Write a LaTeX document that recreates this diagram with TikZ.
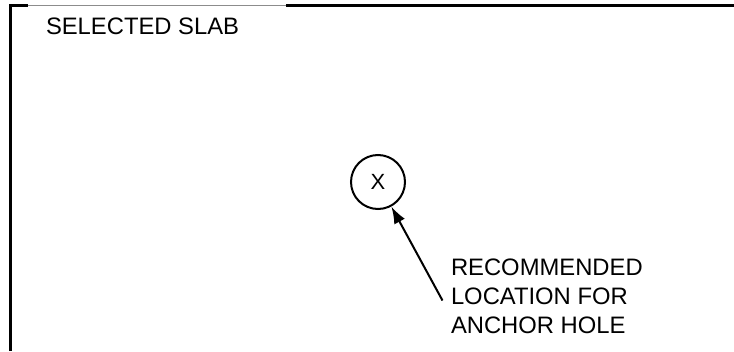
\documentclass[tikz,border=0pt]{standalone}
\usepackage{fontspec}
\setmainfont{Liberation Sans}
\usetikzlibrary{arrows.meta}
\begin{document}
\begin{tikzpicture}[x=1pt,y=-1pt,line width=2pt,
	lbl/.style={inner sep=0pt,font=\fontsize{23.8}{29}\selectfont,align=left},
	hole/.style={draw,circle,minimum size=54pt,inner sep=0pt,font=\fontsize{22}{24}\selectfont}]
	\useasboundingbox (0,0) rectangle (734,351);
	% slab edge
	\draw[line width=3pt] (10,351) -- (10,5.5) -- (28,5.5) (286,5.5) -- (734,5.5);
	\draw[line width=0.8pt,black!45] (28,5) -- (286,5);
	\node[lbl,anchor=base west] (slab) at (45,34.5) {SELECTED SLAB};
	\node[hole] (x) at (378,182) {X};
	% base of the last line
	\node[lbl,anchor=base west] (note) at (450,333) {RECOMMENDED\\LOCATION FOR\\ANCHOR HOLE};
	\coordinate (t) at (442.5,300.5);
	\draw[-{Latex[length=17pt,width=12pt]}] (t) -- (x);
\end{tikzpicture}
\end{document}
